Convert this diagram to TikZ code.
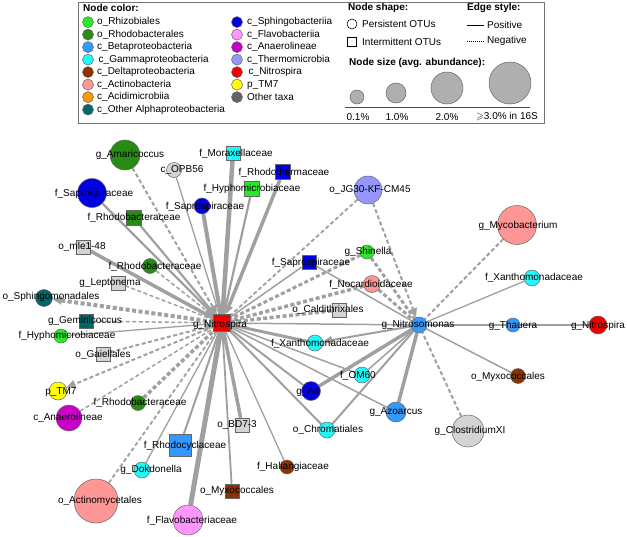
\documentclass[tikz,border=0pt]{standalone}
\usepackage{fontspec}
\setmainfont{Liberation Sans}
\usepackage{amssymb}
\usetikzlibrary{arrows.meta,calc}
\pgfdeclarelayer{bg}\pgfdeclarelayer{fg}
\pgfsetlayers{bg,main,fg}
\definecolor{cRhiz}{RGB}{40,235,40}
\definecolor{cRhodo}{RGB}{40,140,20}
\definecolor{cBeta}{RGB}{51,153,255}
\definecolor{cGamma}{RGB}{30,250,250}
\definecolor{cDelta}{RGB}{140,50,0}
\definecolor{cActino}{RGB}{255,150,150}
\definecolor{cAcidi}{RGB}{255,153,0}
\definecolor{cAlpha}{RGB}{0,102,102}
\definecolor{cSphingo}{RGB}{0,0,225}
\definecolor{cFlavo}{RGB}{255,150,255}
\definecolor{cAnaer}{RGB}{200,0,200}
\definecolor{cThermo}{RGB}{150,150,255}
\definecolor{cNitro}{RGB}{240,0,0}
\definecolor{cTM}{RGB}{255,255,0}
\definecolor{cOther}{RGB}{100,100,100}
\definecolor{cLight}{RGB}{212,212,212}
\definecolor{edgegrey}{RGB}{160,160,160}
\definecolor{sizegrey}{RGB}{175,175,175}
\tikzset{
  cnode/.style={circle,draw=black!60,line width=0.5pt,inner sep=0pt},
  snode/.style={rectangle,draw=black!60,line width=0.5pt,inner sep=0pt},
  lbl/.style={font=\fontsize{10}{12}\selectfont,inner sep=0pt,text=black},
  lgd/.style={font=\fontsize{10}{12}\selectfont,inner sep=0pt,anchor=west},
  lgdb/.style={font=\bfseries\fontsize{10}{12}\selectfont,inner sep=0pt,anchor=west},
  epos/.style={draw=edgegrey,line width=#1},
  eneg/.style={draw=edgegrey,line width=#1,dash pattern=on 4pt off 2.5pt},
  arr/.style={-{Triangle[length=9pt,width=8pt]}},
}
\newcommand{\Cn}[6]{\node[cnode,minimum size=#3pt,fill=#4] (#1) at (#2) {};
  \begin{pgfonlayer}{fg}\node[lbl] at (#6) {#5};\end{pgfonlayer}}
\newcommand{\Sn}[6]{\node[snode,minimum size=#3pt,fill=#4] (#1) at (#2) {};
  \begin{pgfonlayer}{fg}\node[lbl] at (#6) {#5};\end{pgfonlayer}}
\begin{document}
\begin{tikzpicture}[x=1pt,y=-1pt]
\useasboundingbox (0,0) rectangle (627,536);
% ---------------- legend ----------------
\node[draw=black!55,line width=1.2pt,minimum width=466pt,minimum height=121pt,anchor=north west,inner sep=0pt] (legend) at (78,2) {};
\node[lgdb] (hcol) at (83,8) {Node color:};
\foreach \c/\t [count=\i] in {cRhiz/o\_Rhizobiales,cRhodo/o\_Rhodobacterales,cBeta/c\_Betaproteobacteria,cGamma/\hspace{1.5pt}c\_Gammaproteobacteria,cDelta/c\_Deltaproteobacteria,cActino/c\_Actinobacteria,cAcidi/c\_Acidimicrobiia,cAlpha/c\_Other Alphaproteobacteria}{
  \node[cnode,minimum size=11pt,fill=\c] (la\i) at (88,{9.6+12.5*\i}) {};
  \node[lgd] (lta\i) at (97,{9.6+12.5*\i}) {\t};
}
\foreach \c/\t [count=\i] in {cSphingo/c\_Sphingobacteriia,cFlavo/c\_Flavobacteriia,cAnaer/c\_Anaerolineae,cThermo/c\_Thermomicrobia,cNitro/\hspace{1.5pt}c\_Nitrospira,cTM/p\_TM7,cOther/Other taxa}{
  \node[cnode,minimum size=11pt,fill=\c] (lb\i) at (237,{9.6+12.5*\i}) {};
  \node[lgd] (ltb\i) at (247,{9.6+12.5*\i}) {\t};
}
\node[lgdb] (hshape) at (348,8) {Node shape:};
\node[circle,draw=black,line width=0.6pt,minimum size=10pt,inner sep=0pt] (lpc) at (352,24) {};
\node[lgd] (lpt) at (362,24) {Persistent OTUs};
\node[rectangle,draw=black,line width=0.6pt,minimum size=9pt,inner sep=0pt] (lis) at (352,42) {};
\node[lgd] (lit) at (362,42) {Intermittent OTUs};
\node[lgdb] (hsize) at (349,63) {Node size (avg. abundance):};
\node[cnode,fill=sizegrey,minimum size=14pt] (s1) at (357,97) {};
\node[cnode,fill=sizegrey,minimum size=20pt] (s2) at (396,93) {};
\node[cnode,fill=sizegrey,minimum size=32pt] (s3) at (447,88) {};
\node[cnode,fill=sizegrey,minimum size=42pt] (s4) at (510,83) {};
\coordinate (bl1) at (345,107);
\coordinate (bl2) at (530,107);
\draw[black!70,line width=0.8pt] (bl1) -- (bl2);
\node[lbl] (t1) at (358,117) {0.1\%};
\node[lbl] (t2) at (397,117) {1.0\%};
\node[lbl] (t3) at (447,117) {2.0\%};
\node[lbl] (t4) at (507,117) {$\geqslant$3.0\% in 16S};
\node[lgdb] (hedge) at (467,8) {Edge style:};
\coordinate (ep1) at (467,25); \coordinate (ep2) at (484,25);
\coordinate (en1) at (467,41); \coordinate (en2) at (484,41);
\draw[black,line width=0.8pt] (ep1) -- (ep2);
\draw[black,line width=0.8pt,dash pattern=on 1pt off 1pt] (en1) -- (en2);
\node[lgd] (ept) at (487,25) {Positive};
\node[lgd] (ent) at (487,41) {Negative};
% ---------------- nodes ----------------
\Sn{NS}{222,323}{17}{cNitro}{g\_Nitrospira}{220,325}
\Cn{NM}{419,325}{16}{cBeta}{g\_Nitrosomonas}{418,325}
\Cn{amar}{125,155}{30}{cRhodo}{g\_Amaricoccus}{130,155}
\Cn{opb}{174,170}{15}{cLight}{c\_OPB56}{182,170}
\Cn{sapB}{92,193}{29}{cSphingo}{f\_Saprospiraceae}{94,194}
\Sn{rhodoSq}{134,218}{15}{cRhodo}{f\_Rhodobacteraceae}{134,218}
\Cn{sapS}{202,206}{16}{cSphingo}{f\_Saprospiraceae}{205,207}
\Sn{morax}{233,153}{14}{cGamma}{f\_Moraxellaceae}{236,154}
\Sn{rhodoth}{283,172}{15}{cSphingo}{f\_Rhodothermaceae}{284,173}
\Sn{hyphoT}{252,189}{15}{cRhiz}{f\_Hyphomicrobiaceae}{252,189}
\Cn{jg}{368,190}{28}{cThermo}{o\_JG30-KF-CM45}{370,190}
\Cn{shin}{367,252}{14}{cRhiz}{g\_Shinella}{368,252}
\Sn{sapSq}{309,262}{14}{cSphingo}{f\_Saprospiraceae}{311,263}
\Cn{myco}{517,225}{39}{cActino}{g\_Mycobacterium}{518,226}
\Cn{xanR}{532,278}{16}{cGamma}{f\_Xanthomonadaceae}{534,278}
\Cn{thau}{513,325}{14}{cBeta}{g\_Thauera}{513,326}
\Cn{nsR}{598,325}{18}{cNitro}{g\_Nitrospira}{598,326}
\Cn{myxoR}{518,376}{15}{cDelta}{o\_Myxococcales}{508,377}
\Cn{azo}{396,412}{20}{cBeta}{g\_Azoarcus}{396,412}
\Cn{clos}{468,431}{32}{cLight}{g\_ClostridiumXI}{470,431}
\Cn{afour}{311,391}{19}{cSphingo}{g\_A4}{308,392}
\Cn{chrom}{327,430}{16}{cGamma}{o\_Chromatiales}{328,430}
\Cn{hali}{287,467}{14}{cDelta}{f\_Haliangiaceae}{293,467}
\Cn{nocar}{372,284}{17}{cActino}{f\_Nocardioidaceae}{371,285}
\Sn{cald}{339,310}{14}{cLight}{o\_Caldithrixales}{328,310}
\Cn{xanM}{315,343}{16}{cGamma}{f\_Xanthomonadaceae}{320,344}
\Cn{om}{362,375}{16}{cGamma}{f\_OM60}{358,376}
\Sn{mle}{83,247}{14}{cLight}{o\_mle1-48}{82,247}
\Cn{rhodoA}{150,266}{15}{cRhodo}{f\_Rhodobacteraceae}{155,267}
\Sn{lepto}{118,283}{14}{cLight}{g\_Leptonema}{110,283}
\Cn{sphingo}{44,298}{17}{cAlpha}{o\_Sphingomonadales}{51,297}
\Sn{gemini}{86,321}{14}{cAlpha}{g\_Geminicoccus}{85,321}
\Cn{hyphoL}{61,336}{14}{cRhiz}{f\_Hyphomicrobiaceae}{67,336}
\Sn{gaiel}{103,354}{14}{cLight}{o\_Gaiellales}{103,355}
\Cn{tm}{58,391}{18}{cTM}{p\_TM7}{61,392}
\Cn{rhodoB}{138,403}{15}{cRhodo}{f\_Rhodobacteraceae}{140,403}
\Cn{anaer}{69,418}{26}{cAnaer}{c\_Anaerolineae}{68,418}
\Sn{bd}{242,425}{14}{cLight}{o\_BD7-3}{237,425}
\Sn{rhodocy}{180,445}{22}{cBeta}{f\_Rhodocyclaceae}{185,446}
\Cn{dokdo}{142,470}{16}{cGamma}{g\_Dokdonella}{151,470}
\Sn{myxoS}{232,491}{14}{cDelta}{o\_Myxococcales}{237,491}
\Cn{actino}{96,501}{44}{cActino}{o\_Actinomycetales}{100,501}
\Cn{flavo}{188,520}{30}{cFlavo}{f\_Flavobacteriaceae}{192,521}
% ---------------- edges ----------------
\begin{pgfonlayer}{bg}
\draw[eneg=2pt,arr] (amar) -- (NS);
\draw[epos=1.3pt] (opb) -- (NS);
\draw[epos=2.2pt] (sapB) -- (NS);
\draw[epos=2.2pt] (rhodoSq) -- (NS);
\draw[epos=4pt] (sapS) -- (NS);
\draw[epos=4.5pt] (morax) -- (NS);
\draw[epos=2.2pt] (hyphoT) -- (NS);
\draw[epos=3.5pt,arr] (rhodoth) -- (NS);
\draw[epos=3.5pt] (mle) -- (NS);
\draw[eneg=1.5pt,arr] (rhodoA) -- (NS);
\draw[eneg=1.5pt] (lepto) -- (NS);
\draw[eneg=4pt,arr] (NS) -- (sphingo);
\draw[eneg=1.5pt] (gemini) -- (NS);
\draw[epos=1.3pt] (hyphoL) -- (NS);
\draw[eneg=2pt,arr] (gaiel) -- (NS);
\draw[eneg=2pt,arr] (NS) -- (tm);
\draw[eneg=3.5pt] (rhodoB) -- (NS);
\draw[eneg=1.5pt] (anaer) -- (NS);
\draw[eneg=1.8pt] (actino) -- (NS);
\draw[epos=1.3pt] (dokdo) -- (NS);
\draw[epos=2pt] (rhodocy) -- (NS);
\draw[epos=5pt] (flavo) -- (NS);
\draw[epos=1.8pt] (myxoS) -- (NS);
\draw[epos=3.5pt] (bd) -- (NS);
\draw[epos=1.3pt] (hali) -- (NS);
\draw[epos=2pt] (chrom) -- (NS);
\draw[epos=2pt] (afour) -- (NS);
\draw[epos=1.5pt] (azo) -- (NS);
\draw[epos=1.5pt] (om) -- (NS);
\draw[epos=3pt] (xanM) -- (NS);
\draw[eneg=3.5pt] (cald) -- (NS);
\draw[eneg=3.5pt] (nocar) -- (NS);
\draw[epos=1.5pt] (NS) -- (NM);
\draw[eneg=3pt] (shin) -- (NS);
\draw[eneg=1.8pt] (jg) -- (NS);
\draw[epos=1.5pt] (sapSq) -- (NS);
\draw[eneg=2pt,arr] (jg) -- (NM);
\draw[eneg=2pt] (myco) -- (NM);
\draw[epos=1.3pt] (xanR) -- (NM);
\draw[epos=1.5pt] (NM) -- (thau);
\draw[epos=1.5pt] (thau) -- (nsR);
\draw[epos=1.5pt] (myxoR) -- (NM);
\draw[eneg=2pt] (clos) -- (NM);
\draw[epos=3.5pt] (azo) -- (NM);
\draw[epos=2pt] (chrom) -- (NM);
\draw[epos=3.5pt] (afour) -- (NM);
\draw[epos=1.5pt] (om) -- (NM);
\draw[epos=2pt,arr] (NM) -- (xanM);
\draw[eneg=3pt] (shin) -- (NM);
\draw[eneg=3pt] (nocar) -- (NM);
\draw[epos=1.5pt] (sapSq) -- (NM);
\end{pgfonlayer}
\end{tikzpicture}
\end{document}
